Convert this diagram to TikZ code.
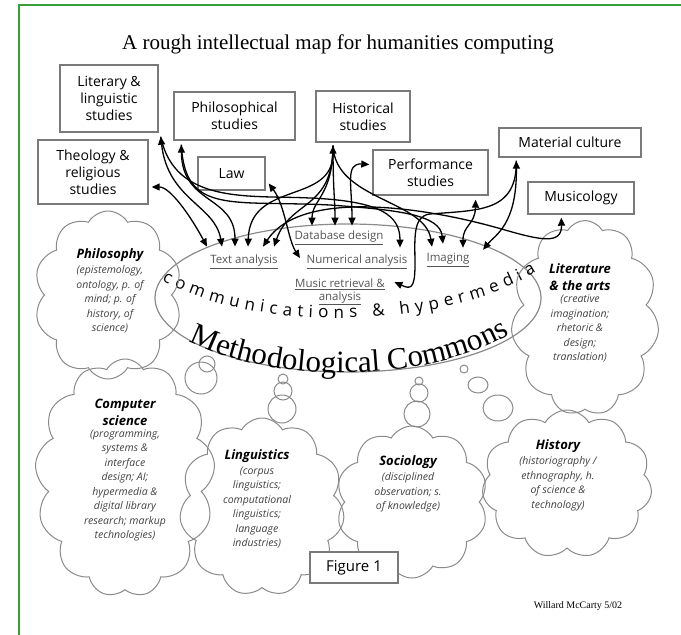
\documentclass[tikz,border=0pt]{standalone}
\usepackage{fontspec}
\setmainfont{Liberation Serif}
\newfontfamily\boxfont{Open Sans}
\usetikzlibrary{arrows.meta,positioning,calc,shapes.geometric,shapes.symbols,decorations.text}
\definecolor{framegreen}{HTML}{3A9E3A}
\definecolor{linegray}{HTML}{7A7A7A}
\definecolor{cloudgray}{HTML}{8A8A8A}
\definecolor{itemgray}{HTML}{555555}
\tikzset{
    every node/.style={color=black, font=\boxfont\fontsize{14}{17}\selectfont},
    every path/.style={color=black}
}

\begin{document}
\begin{tikzpicture}[
        x=1pt, y=-1pt,
        line width=1.3pt,
        >={Triangle[length=8pt, width=7pt]},
        field/.style={rectangle, draw=linegray, line width=1.4pt, align=center, inner sep=2pt},
        thought/.style={cloud, draw=cloudgray, line width=1pt, cloud puffs=11, cloud puff arc=120, cloud ignores aspect},
        bubble/.style={ellipse, draw=cloudgray, line width=1pt, inner sep=0pt},
        cloudhead/.style={font=\boxfont\bfseries\itshape\fontsize{13}{17}\selectfont, align=center, inner sep=1pt},
        cloudbody/.style={font=\boxfont\itshape\fontsize{10.5}{14.5}\selectfont, color=black!75, align=center, inner sep=1pt},
        method/.style={font=\boxfont\fontsize{11.5}{13}\selectfont, color=itemgray, align=center, inner sep=1pt}
    ]
    \useasboundingbox (0,0) rectangle (681,635);

    % Frame
    \draw[framegreen, line width=2.2pt] (18,5) -- (681,5);
    \draw[framegreen, line width=2.2pt] (19,5) -- (19,635);

    % Title
    \node[font=\rmfamily\fontsize{21}{24}\selectfont] (title) at (338,44) {A rough intellectual map for humanities computing};

    % Fields of study
    \node[field, minimum width=98pt, minimum height=67pt] (lit) at (109,98.5) {Literary \&\\linguistic\\studies};
    \node[field, minimum width=121pt, minimum height=48pt] (philo) at (234.5,116) {Philosophical\\studies};
    \node[field, minimum width=94pt, minimum height=51pt] (hist) at (363,116.5) {Historical\\studies};
    \node[field, minimum width=110pt, minimum height=64pt] (theo) at (93,172) {Theology \&\\religious\\studies};
    \node[field, minimum width=67pt, minimum height=33pt] (law) at (231.5,173.5) {Law};
    \node[field, minimum width=115pt, minimum height=45pt] (perf) at (430.5,172.5) {Performance\\studies};
    \node[field, minimum width=142pt, minimum height=29pt] (mat) at (570,142.5) {Material culture};
    \node[field, minimum width=106pt, minimum height=32pt] (musicol) at (581,198) {Musicology};

    % Methodological commons
    \node[ellipse, draw=cloudgray, line width=1.2pt, minimum width=386pt, minimum height=148pt] (commons) at (348,298) {};
    \node[method] (dbase) at (339,238) {\underline{Database design}};
    \node[method] (textan) at (244,262) {\underline{Text analysis}};
    \node[method] (numan) at (357,262) {\underline{Numerical analysis}};
    \node[method] (imaging) at (448,260) {\underline{Imaging}};
    \node[method] (musicret) at (340,292) {\underline{Music retrieval \&}\\\underline{analysis}};

    \path[decorate, decoration={text along path, text align={fit to path},
        text={|\boxfont\fontsize{17}{17}\selectfont|communications {\&} hypermedia}}]
        (162,280) .. controls (250,332) and (440,332) .. (536,272);
    \path[decorate, decoration={text along path, text align=center,
        text={|\rmfamily\fontsize{31}{31}\selectfont|Methodological Commons}}]
        (176,334) .. controls (262,387) and (438,387) .. (522,326);

    % Disciplines
    \node[thought, cloud puffs=10, minimum width=148pt, minimum height=168pt] (philosophy) at (108,295) {};
    \node[cloudhead] (philosophy head) at (110,255) {Philosophy};
    \node[cloudbody, below=1pt of philosophy head] (philosophy body) {(epistemology,\\ontology, p. of\\mind; p. of\\history, of\\science)};

    \node[thought, minimum width=148pt, minimum height=195pt] (arts) at (585,318) {};
    \node[cloudhead] (arts head) at (580,277) {Literature\\\& the arts};
    \node[cloudbody, below=1pt of arts head] (arts body) {(creative\\imagination;\\rhetoric \&\\design;\\translation)};

    \node[thought, cloud puffs=13, minimum width=180pt, minimum height=238pt] (compsci) at (125,478) {};
    \node[cloudhead] (compsci head) at (125,412) {Computer\\science};
    \node[cloudbody, below=1pt of compsci head] (compsci body) {(programming,\\systems \&\\interface\\design; AI;\\hypermedia \&\\digital library\\research; markup\\technologies)};

    \node[thought, minimum width=165pt, minimum height=178pt] (ling) at (262,507) {};
    \node[cloudhead] (ling head) at (257,456) {Linguistics};
    \node[cloudbody, below=1pt of ling head] (ling body) {(corpus\\linguistics;\\computational\\linguistics;\\language\\industries)};

    \node[thought, cloud puffs=10, minimum width=152pt, minimum height=152pt] (socio) at (412,502) {};
    \node[cloudhead] (socio head) at (408,462) {Sociology};
    \node[cloudbody, below=1pt of socio head] (socio body) {(disciplined\\observation; s.\\of knowledge)};

    \node[thought, minimum width=170pt, minimum height=148pt] (history) at (567,484) {};
    \node[cloudhead] (history head) at (558,446) {History};
    \node[cloudbody, below=1pt of history head] (history body) {(historiography /\\ethnography, h.\\of science \&\\technology)};

    % Thought bubbles
    \node[bubble, minimum size=32pt] (cs bubble2) at (201,378) {};
    \node[bubble, minimum size=16pt] (cs bubble1) at (207,364) {};
    \node[bubble, minimum size=10pt] (ling bubble1) at (283,379) {};
    \node[bubble, minimum size=18pt] (ling bubble2) at (283,391) {};
    \node[bubble, minimum size=28pt] (ling bubble3) at (282,409) {};
    \node[bubble, minimum size=8pt] (socio bubble1) at (419,381) {};
    \node[bubble, minimum size=18pt] (socio bubble2) at (419,393) {};
    \node[bubble, minimum size=26pt] (socio bubble3) at (417,414) {};
    \node[bubble, minimum size=8pt] (history bubble1) at (464,369) {};
    \node[bubble, minimum width=20pt, minimum height=16pt] (history bubble2) at (478,385) {};
    \node[bubble, minimum width=30pt, minimum height=26pt] (history bubble3) at (498,408) {};

    \node[field, fill=white, minimum width=88pt, minimum height=31pt, font=\boxfont\fontsize{15}{18}\selectfont] (fig) at (354,567.5) {Figure 1};
    \node[font=\rmfamily\fontsize{10}{12}\selectfont] (credit) at (578,606) {Willard McCarty 5/02};

    % Connections
    \draw[<->] ($(theo.east)+(3,15)$) .. controls (170,187) and (190,215) .. ($(textan.north)+(-37,-7)$);
    \draw[<->] ($(lit.south east)+(2,4)$) .. controls (168,200) and (215,205) .. ($(textan.north)+(-22,-7)$);
    \draw[->] ($(lit.south east)+(2,4)$) .. controls (175,205) and (250,195) .. (310,198) .. controls (380,201) and (400,215) .. ($(numan.north)+(43,-6)$);
    \draw[<->] ($(philo.south west)+(8,4)$) .. controls (182,205) and (235,195) .. ($(textan.north)+(-9,-7)$);
    \draw[->] ($(philo.south west)+(8,4)$) .. controls (185,215) and (230,200) .. (330,205) .. controls (400,210) and (440,215) .. ($(imaging.north)+(-5,-8)$);
    \draw[<->] ($(hist.south)+(-30,3)$) .. controls (333,205) and (250,180) .. ($(textan.north)+(4,-7)$);
    \draw[->] ($(hist.south)+(-30,3)$) .. controls (333,210) and (290,200) .. ($(textan.north)+(30,-7)$);
    \draw[->] ($(hist.south)+(-30,3)$) .. controls (333,195) and (312,200) .. ($(dbase.north)+(-27,-4)$);
    \draw[->] ($(hist.south)+(-30,3)$) .. controls (333,190) and (335,200) .. ($(dbase.north)+(-4,-4)$);
    \draw[->] ($(hist.south)+(-30,3)$) .. controls (335,200) and (425,200) .. ($(imaging.north)+(-16,-5)$);
    \draw[<->] ($(perf.west)+(-3,-8)$) .. controls (345,163) and (352,185) .. ($(dbase.north)+(13,-4)$);
    \draw[<->] ($(law.east)+(3,10)$) .. controls (285,205) and (288,240) .. ($(numan.west)+(-5,-4)$);
    \draw[<->] ($(perf.south east)+(-13,4)$) .. controls (475,225) and (463,225) .. ($(imaging.north)+(15,-4)$);
    \draw[<->] ($(mat.south west)+(18,3)$) .. controls (517,225) and (495,235) .. ($(imaging.north east)+(12,-2)$);
    \draw[->] ($(mat.south west)+(18,3)$) .. controls (517,212) and (480,210) .. (430,214) .. controls (412,216) and (415,240) .. (415,265) .. controls (415,290) and (410,289) .. ($(musicret.north east)+(8,5)$);
    \draw[<->] ($(musicol.south west)+(34,3)$) .. controls (562,245) and (540,240) .. (505,230) .. controls (420,205) and (300,190) .. ($(textan.north)+(19,-7)$);
\end{tikzpicture}
\end{document}
